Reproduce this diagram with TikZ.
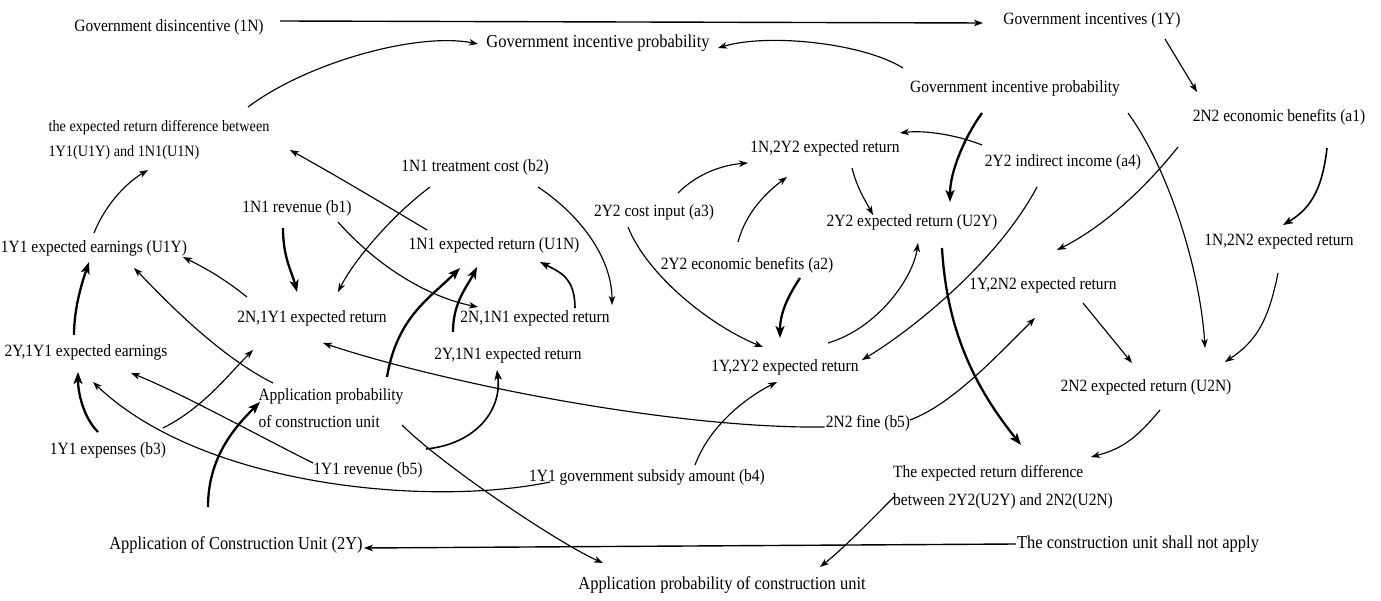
\documentclass[tikz,border=0pt]{standalone}
\usepackage{fontspec}
\setmainfont{Liberation Serif}[FakeStretch=0.9]
\usetikzlibrary{arrows.meta,calc}
\begin{document}
\begin{tikzpicture}[x=1pt,y=-1pt,
  lbl/.style={inner sep=1pt, font=\fontsize{17.2}{19}\selectfont, text=black},
  big/.style={inner sep=1pt, font=\fontsize{18.3}{20}\selectfont, text=black},
  arr/.style={line width=1.15pt, -{Stealth[length=9pt,width=6.5pt,inset=2.5pt]}},
  med/.style={line width=1.6pt, -{Stealth[length=10pt,width=7.5pt,inset=2.5pt]}},
  thk/.style={line width=2.3pt, -{Stealth[length=12pt,width=9pt,inset=3pt]}}]
\fill[white] (0,0) rectangle (1381,601);
\useasboundingbox (0,0) rectangle (1381,601);

% nodes
\node[lbl] (gdis) at (169,27) {Government disincentive (1N)};
\node[lbl] (gi1y) at (1092,20) {Government incentives (1Y)};
\node[big] (gipT) at (598,43) {Government incentive probability};
\node[lbl] (gip2) at (1015,88) {Government incentive probability};
\node[lbl] (a1) at (1279,117) {2N2 economic benefits (a1)};
\node[lbl, align=left, font=\fontsize{15.8}{25}\selectfont] (diff1) at (159,140) {the expected return difference between\\1Y1(U1Y) and 1N1(U1N)};
\node[lbl] (b2) at (475,167) {1N1 treatment cost (b2)};
\node[lbl] (n2y2) at (825,148) {1N,2Y2 expected return};
\node[lbl] (a4) at (1063,162) {2Y2 indirect income (a4)};
\node[lbl] (b1) at (297,208) {1N1 revenue (b1)};
\node[lbl] (a3) at (654,212) {2Y2 cost input (a3)};
\node[lbl] (u1n) at (494,245) {1N1 expected return (U1N)};
\node[lbl] (u2y) at (912,222) {2Y2 expected return (U2Y)};
\node[lbl] (u1y) at (94,248) {1Y1 expected earnings (U1Y)};
\node[lbl] (a2) at (747,265) {2Y2 economic benefits (a2)};
\node[lbl] (n2n2) at (1279,241) {1N,2N2 expected return};
\node[lbl] (y2n2) at (1043,285) {1Y,2N2 expected return};
\node[lbl] (n1y1) at (312,318) {2N,1Y1 expected return};
\node[lbl] (n1n1) at (535,318) {2N,1N1 expected return};
\node[lbl] (y1n1) at (508,355) {2Y,1N1 expected return};
\node[lbl] (y1y1) at (86,352) {2Y,1Y1 expected earnings};
\node[lbl] (y2y2) at (785,367) {1Y,2Y2 expected return};
\node[lbl] (u2n) at (1146,387) {2N2 expected return (U2N)};
\node[lbl, align=left, font=\fontsize{17.2}{27}\selectfont] (apm) at (331,408) {Application probability\\of construction unit};
\node[lbl] (b5f) at (868,423) {2N2 fine (b5)};
\node[lbl] (b3) at (108,450) {1Y1 expenses (b3)};
\node[lbl] (b5r) at (368,470) {1Y1 revenue (b5)};
\node[lbl] (b4) at (647,477) {1Y1 government subsidy amount (b4)};
\node[lbl, align=left, font=\fontsize{17.2}{28}\selectfont] (erd2) at (1003,487) {The expected return difference\\between 2Y2(U2Y) and 2N2(U2N)};
\node[big] (app2y) at (236,545) {Application of Construction Unit (2Y)};
\node[big] (noapply) at (1138,544) {The construction unit shall not apply};
\node[big] (apb) at (722,585) {Application probability of construction unit};
\coordinate (br) at (426,449);

% connectors
\draw[arr, line width=1.4pt] ($(gdis)+(111,-6)$) -- ($(gi1y)+(-109,3)$);
\draw[arr] ($(diff1)+(89,-33)$) .. controls +(60,-45) and +(-60,-12) .. ($(gipT)+(-120,1)$);
\draw[arr] ($(gip2)+(-112,-20)$) .. controls +(-40,-25) and +(50,-15) .. ($(gipT)+(120,5)$);
\draw[arr] ($(gi1y)+(73,19)$) -- ($(a1)+(-82,-25)$);
\draw[arr] ($(a4)+(-81,-17)$) .. controls +(-25,-10) and +(25,-3) .. ($(n2y2)+(75,-15)$);
\draw[thk] ($(gip2)+(-33,25)$) .. controls +(-18,25) and +(0,-30) .. ($(u2y)+(38,-20)$);
\draw[arr] ($(n2y2)+(27,20)$) .. controls +(5,20) and +(-8,-15) .. ($(u2y)+(-39,-7)$);
\draw[arr] ($(a3)+(24,-19)$) .. controls +(20,-20) and +(-25,2) .. ($(n2y2)+(-77,15)$);
\draw[arr] ($(a2)+(-9,-23)$) .. controls +(8,-30) and +(-20,15) .. ($(n2y2)+(-38,29)$);
\draw[arr] ($(a3)+(-26,15)$) .. controls +(20,50) and +(-50,-20) .. ($(y2y2)+(-22,-20)$);
\draw[thk] ($(a2)+(53,13)$) .. controls +(-12,18) and +(0,-25) .. ($(y2y2)+(-5,-29)$);
\draw[arr] ($(y2y2)+(43,-24)$) .. controls +(50,-15) and +(-5,35) .. ($(u2y)+(6,21)$);
\draw[arr] ($(a4)+(-26,25)$) .. controls +(-40,75) and +(50,-30) .. ($(y2y2)+(77,-7)$);
\draw[arr] ($(gip2)+(113,25)$) .. controls +(40,55) and +(-5,-80) .. ($(u2n)+(59,-39)$);
\draw[arr] ($(a1)+(-101,30)$) .. controls +(-40,50) and +(40,-20) .. ($(y2n2)+(14,-35)$);
\draw[med] ($(a1)+(48,31)$) .. controls +(-5,45) and +(25,-15) .. ($(n2n2)+(4,-16)$);
\draw[arr] ($(n2n2)+(-1,32)$) .. controls +(-10,50) and +(30,-20) .. ($(u2n)+(79,-25)$);
\draw[arr] ($(y2n2)+(40,18)$) -- ($(u2n)+(-14,-24)$);
\draw[thk] ($(u2y)+(30,26)$) .. controls +(5,90) and +(-40,-50) .. ($(erd2)+(18,-42)$);
\draw[arr] ($(b5f)+(42,-3)$) .. controls +(40,-15) and +(-45,45) .. ($(y2n2)+(-8,33)$);
\draw[arr] ($(u2n)+(14,23)$) .. controls +(-25,30) and +(30,-8) .. ($(erd2)+(88,-30)$);
\draw[arr] ($(erd2)+(-109,10)$) .. controls +(-25,25) and +(25,-20) .. ($(apb)+(98,-18)$);
\draw[arr, line width=1.4pt] (noapply.west) -- ($(app2y.east)+(0,3)$);
\draw[arr] ($(b5f.west)+(0,4)$) .. controls +(-150,2) and +(120,40) .. ($(n1y1)+(11,25)$);
\draw[arr] ($(b4)+(48,-12)$) .. controls +(15,-40) and +(-30,15) .. ($(y2y2)+(-8,15)$);
\draw[arr] ($(b4)+(-97,5)$) .. controls +(-120,25) and +(110,105) .. ($(y1y1)+(7,30)$);
\draw[arr] ($(b5r)+(-55,-7)$) .. controls +(-60,-30) and +(50,20) .. ($(y1y1)+(45,21)$);
\draw[thk] ($(b3)+(-10,-18)$) .. controls +(-15,-15) and +(0,20) .. ($(y1y1)+(-8,20)$);
\draw[arr] ($(b3)+(55,-22)$) .. controls +(40,-20) and +(-25,25) .. ($(n1y1)+(-59,32)$);
\draw[thk] ($(y1y1)+(-12,-17)$) .. controls +(0,-30) and +(-5,15) .. ($(u1y)+(-5,14)$);
\draw[arr] ($(apm)+(-58,-25)$) .. controls +(-60,-30) and +(20,20) .. ($(u1y)+(40,20)$);
\draw[arr] ($(u1y)+(0,-15)$) .. controls +(10,-25) and +(-25,15) .. ($(diff1)+(-11,30)$);
\draw[arr] ($(n1y1)+(-65,-21)$) .. controls +(-25,-20) and +(20,10) .. ($(u1y)+(89,9)$);
\draw[thk] ($(b1)+(-14,20)$) .. controls +(0,30) and +(-5,-20) .. ($(n1y1)+(-15,-26)$);
\draw[arr] ($(b2)+(-45,20)$) .. controls +(-40,30) and +(15,-30) .. ($(n1y1)+(26,-26)$);
\draw[arr] ($(u1n)+(-67,-15)$) .. controls +(-50,-30) and +(45,25) .. ($(diff1)+(131,10)$);
\draw[arr] ($(b1)+(41,14)$) .. controls +(40,45) and +(-50,-10) .. ($(n1n1)+(-57,-11)$);
\draw[arr] ($(b2)+(63,20)$) .. controls +(45,30) and +(0,-45) .. ($(n1n1)+(77,-13)$);
\draw[med] ($(n1n1)+(40,-10)$) .. controls +(0,-30) and +(20,10) .. ($(u1n)+(46,17)$);
\draw[thk] ($(y1n1)+(-55,-23)$) .. controls +(0,-30) and +(-10,20) .. ($(u1n)+(-17,22)$);
\draw[thk] ($(apm)+(56,-31)$) .. controls +(10,-60) and +(-30,30) .. ($(u1n)+(-34,23)$);
\draw[med] (br) .. controls +(50,-5) and +(5,40) .. ($(y1n1)+(-11,15)$);
\draw[arr] ($(apm)+(71,17)$) .. controls +(40,40) and +(-45,-20) .. ($(apb)+(-119,-22)$);
\draw[thk] ($(app2y)+(-28,-38)$) .. controls +(0,-50) and +(-25,25) .. ($(apm)+(-71,-6)$);
\end{tikzpicture}
\end{document}
